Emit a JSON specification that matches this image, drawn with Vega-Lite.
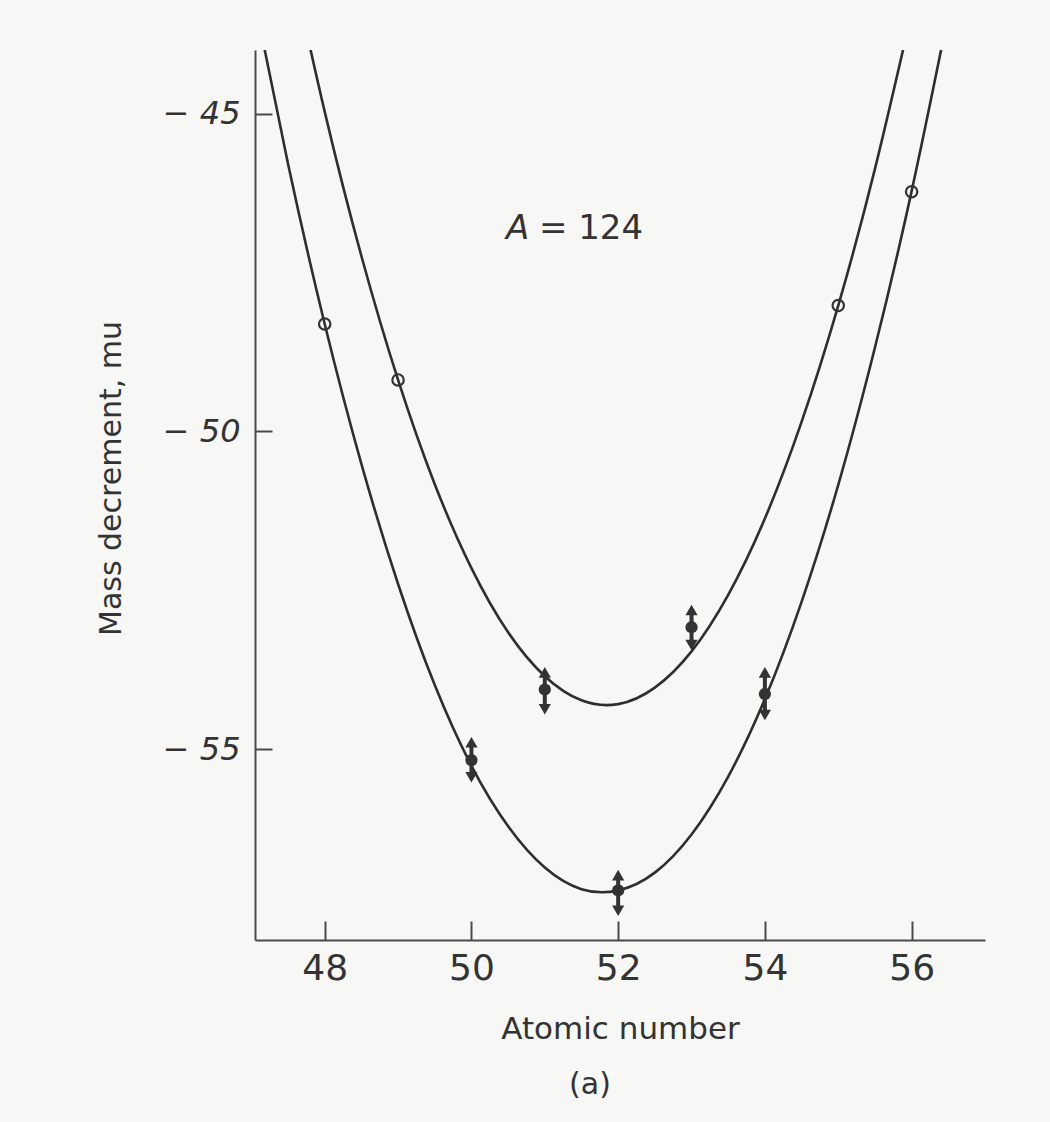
{
  "$schema": "https://vega.github.io/schema/vega-lite/v6.json",
  "width": 730,
  "height": 890,
  "autosize": "none",
  "padding": {"left": 255, "top": 50, "right": 65, "bottom": 182},
  "background": "#f7f7f6",
  "config": {
    "view": {"stroke": null},
    "font": "DejaVu Sans",
    "axis": {"grid": false, "domainColor": "#4a4a4a", "domainWidth": 2, "tickColor": "#4a4a4a", "tickWidth": 2, "labelColor": "#333333", "titleColor": "#333333", "titleFontWeight": "normal", "labelFont": "DejaVu Sans", "titleFont": "DejaVu Sans"}
  },
  "title": {"text": "(a)", "orient": "bottom", "anchor": "middle", "dx": -30, "offset": 26, "fontSize": 30, "fontWeight": "normal", "color": "#333333", "font": "DejaVu Sans"},
  "datasets": {
    "lower": [
      {"Z": 47.0, "M": -42.97}, {"Z": 47.5, "M": -45.79}, {"Z": 48.0, "M": -48.31}, {"Z": 48.5, "M": -50.51},
      {"Z": 49.0, "M": -52.40}, {"Z": 49.5, "M": -53.99}, {"Z": 50.0, "M": -55.26}, {"Z": 50.5, "M": -56.21},
      {"Z": 51.0, "M": -56.86}, {"Z": 51.5, "M": -57.20}, {"Z": 52.0, "M": -57.22}, {"Z": 52.5, "M": -56.94},
      {"Z": 53.0, "M": -56.34}, {"Z": 53.5, "M": -55.43}, {"Z": 54.0, "M": -54.21}, {"Z": 54.5, "M": -52.68},
      {"Z": 55.0, "M": -50.84}, {"Z": 55.5, "M": -48.68}, {"Z": 56.0, "M": -46.22}, {"Z": 56.5, "M": -43.44}
    ],
    "upper": [
      {"Z": 47.5, "M": -42.39}, {"Z": 48.0, "M": -44.97}, {"Z": 48.5, "M": -47.24}, {"Z": 49.0, "M": -49.19},
      {"Z": 49.5, "M": -50.83}, {"Z": 50.0, "M": -52.15}, {"Z": 50.5, "M": -53.16}, {"Z": 51.0, "M": -53.85},
      {"Z": 51.5, "M": -54.23}, {"Z": 52.0, "M": -54.29}, {"Z": 52.5, "M": -54.03}, {"Z": 53.0, "M": -53.46},
      {"Z": 53.5, "M": -52.57}, {"Z": 54.0, "M": -51.37}, {"Z": 54.5, "M": -49.85}, {"Z": 55.0, "M": -48.02},
      {"Z": 55.5, "M": -45.87}, {"Z": 56.0, "M": -43.41}
    ],
    "open": [
      {"Z": 48, "M": -48.31}, {"Z": 49, "M": -49.19}, {"Z": 55, "M": -48.02}, {"Z": 56, "M": -46.23}
    ],
    "meas": [
      {"Z": 50, "M": -55.17, "lo": -55.44, "hi": -54.89},
      {"Z": 51, "M": -54.06, "lo": -54.37, "hi": -53.79},
      {"Z": 52, "M": -57.22, "lo": -57.54, "hi": -56.98},
      {"Z": 53, "M": -53.08, "lo": -53.36, "hi": -52.81},
      {"Z": 54, "M": -54.13, "lo": -54.46, "hi": -53.79}
    ],
    "labelA": [{"Z": 50.63, "M": -46.81, "t": "A"}],
    "labelEq": [{"Z": 50.92, "M": -46.81, "t": "=  124"}]
  },
  "encoding": {
    "x": {"field": "Z", "type": "quantitative", "scale": {"domain": [47.05, 57], "nice": false, "zero": false},
      "axis": {"values": [48, 50, 52, 54, 56], "tickSize": -19, "labelPadding": 30, "labelFontSize": 36, "title": "Atomic number", "titleFontSize": 31, "titlePadding": 28}},
    "y": {"field": "M", "type": "quantitative", "scale": {"domain": [-58, -44], "nice": false, "zero": false},
      "axis": {"values": [-45, -50, -55], "tickSize": -17, "labelPadding": 32, "labelFontSize": 32, "labelFontStyle": "italic", "labelExpr": "'− ' + abs(datum.value)", "title": "Mass decrement, mu", "titleFontSize": 30, "titlePadding": 36, "titleY": 428}}
  },
  "layer": [
    {"data": {"name": "lower"}, "mark": {"type": "line", "interpolate": "natural", "clip": true, "color": "#2e2e2e", "strokeWidth": 2.6}},
    {"data": {"name": "upper"}, "mark": {"type": "line", "interpolate": "natural", "clip": true, "color": "#2e2e2e", "strokeWidth": 2.6}},
    {"data": {"name": "meas"}, "mark": {"type": "rule", "color": "#333333", "strokeWidth": 4}, "encoding": {"y": {"field": "lo", "type": "quantitative"}, "y2": {"field": "hi"}}},
    {"data": {"name": "meas"}, "mark": {"type": "point", "shape": "triangle-up", "filled": true, "color": "#333333", "size": 150, "opacity": 1}, "encoding": {"y": {"field": "hi", "type": "quantitative"}}},
    {"data": {"name": "meas"}, "mark": {"type": "point", "shape": "triangle-down", "filled": true, "color": "#333333", "size": 150, "opacity": 1}, "encoding": {"y": {"field": "lo", "type": "quantitative"}}},
    {"data": {"name": "meas"}, "mark": {"type": "point", "shape": "circle", "filled": true, "color": "#333333", "size": 150, "opacity": 1}},
    {"data": {"name": "open"}, "mark": {"type": "point", "shape": "circle", "filled": false, "color": "#333333", "strokeWidth": 2.2, "size": 130, "opacity": 1}},
    {"data": {"name": "labelA"}, "mark": {"type": "text", "fontSize": 34, "fontStyle": "italic", "color": "#333333", "baseline": "middle", "align": "center", "font": "DejaVu Sans"},
      "encoding": {"text": {"field": "t"}}},
    {"data": {"name": "labelEq"}, "mark": {"type": "text", "fontSize": 34, "color": "#333333", "baseline": "middle", "align": "left", "font": "DejaVu Sans"},
      "encoding": {"text": {"field": "t"}}}
  ]
}
